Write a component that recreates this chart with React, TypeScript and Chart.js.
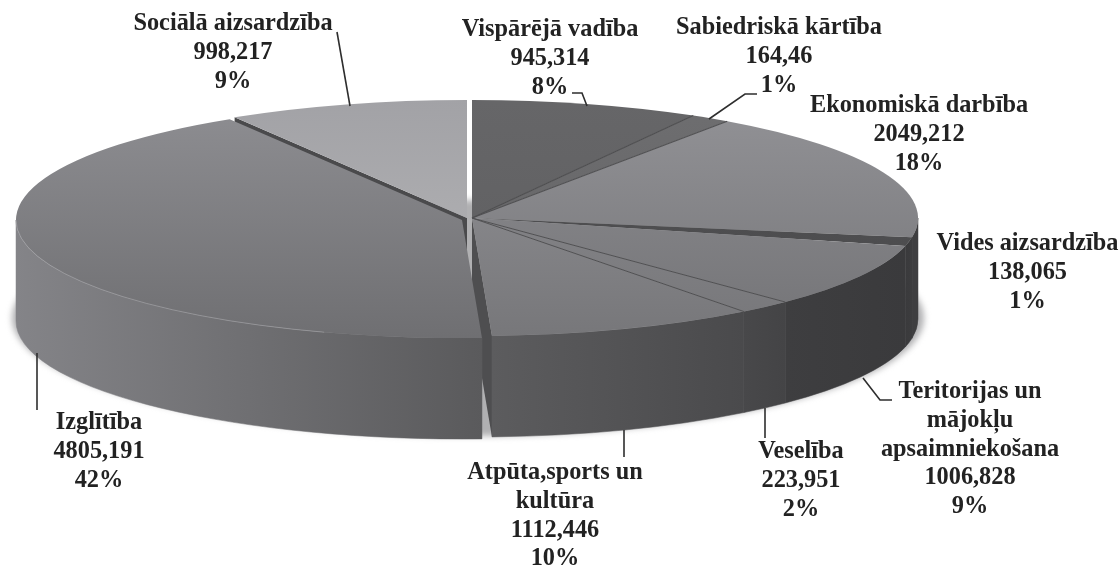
import React, { useEffect, useRef } from "react";
import { Chart, registerables } from "chart.js";

Chart.register(...registerables);

const categories = [
  "Vispārējā vadība",
  "Sabiedriskā kārtība",
  "Ekonomiskā darbība",
  "Vides aizsardzība",
  "Teritorijas un mājokļu apsaimniekošana",
  "Veselība",
  "Atpūta,sports un kultūra",
  "Izglītība",
  "Sociālā aizsardzība",
];
const values = [945.314, 164.46, 2049.212, 138.065, 1006.828, 223.951, 1112.446, 4805.191, 998.217];
const percents = [8, 1, 18, 1, 9, 2, 10, 42, 9];
const nameRows = [
  ["Vispārējā vadība"],
  ["Sabiedriskā kārtība"],
  ["Ekonomiskā darbība"],
  ["Vides aizsardzība"],
  ["Teritorijas un", "mājokļu", "apsaimniekošana"],
  ["Veselība"],
  ["Atpūta,sports un", "kultūra"],
  ["Izglītība"],
  ["Sociālā aizsardzība"],
];

// style tables
const topLight = ["#666668", "#6e6e70", "#929296", "#525254", "#8e8e92", "#8c8c90", "#939397", "#8e8e92", "#a2a2a6"];
const topDark = ["#5e5e60", "#626264", "#767679", "#4a4a4c", "#747477", "#77777a", "#77777a", "#6f6f72", "#b6b6b8"];
const wallLeft = ["#444", "#444", "#3e3e40", "#3a3a3c", "#3e3e40", "#48484a", "#5c5c5e", "#848488", "#888"];
const wallRight = ["#444", "#444", "#3e3e40", "#3c3c3e", "#3a3a3c", "#444446", "#4a4a4c", "#5a5a5c", "#888"];
const centers = [[472, 218], [472, 218], [472, 218], [472, 218], [472, 218], [472, 218], [472, 218], [462, 220], [467, 218]];
const labelPos = [[550, 30], [779, 28], [919, 106], [1027.5, 244], [970, 392], [801, 452], [555, 473], [99, 423], [233, 24]];
const leaders = [
  [[572, 93], [582, 93], [587, 106]],
  [[757, 94], [745, 94], [709, 119]],
  [],
  [],
  [[892, 400], [880, 400], [863, 378]],
  [[765, 408], [765, 438]],
  [[624, 430], [624, 457]],
  [[37, 353], [37, 410]],
  [[337, 32], [350, 106]],
];
const RX = 446;
const RY = 118;
const DEPTH = 101;
const LINE = 28.7;

const pie3d = {
  id: "pie3d",
  beforeDatasetsDraw(chart: any) {
    const ctx: CanvasRenderingContext2D = chart.ctx;
    const arcs = chart.getDatasetMeta(0).data;

    // soft shadow under the body
    ctx.save();
    ctx.filter = "blur(3px)";
    ctx.fillStyle = "#b0b0b2";
    ctx.beginPath();
    ctx.ellipse(468, 318, 456, 118, 0, 0, Math.PI * 2);
    ctx.fill();
    ctx.restore();

    const wall = (i: number) => {
      const arc = arcs[i];
      const [cx, cy] = centers[i];
      const a0 = Math.max(arc.startAngle, 0);
      const a1 = Math.min(arc.endAngle, Math.PI);
      if (a1 <= a0) return;
      const x0 = cx + RX * Math.cos(a1);
      const x1 = cx + RX * Math.cos(a0);
      const g = ctx.createLinearGradient(x0, 0, x1, 0);
      g.addColorStop(0, wallLeft[i]);
      g.addColorStop(1, wallRight[i]);
      ctx.fillStyle = g;
      ctx.beginPath();
      ctx.ellipse(cx, cy, RX, RY, 0, a0, a1);
      ctx.ellipse(cx, cy + DEPTH, RX, RY, 0, a1, a0, true);
      ctx.closePath();
      ctx.fill();
      ctx.strokeStyle = g;
      ctx.lineWidth = 0.5;
      ctx.stroke();
    };
    const cutWall = (i: number, angle: number, fill: string) => {
      const [cx, cy] = centers[i];
      const x = cx + RX * Math.cos(angle);
      const y = cy + RY * Math.sin(angle);
      ctx.fillStyle = fill;
      ctx.beginPath();
      ctx.moveTo(cx, cy);
      ctx.lineTo(x, y);
      ctx.lineTo(x, y + DEPTH);
      ctx.lineTo(cx, cy + DEPTH);
      ctx.closePath();
      ctx.fill();
    };
    const top = (i: number) => {
      const arc = arcs[i];
      const [cx, cy] = centers[i];
      ctx.save();
      ctx.translate(cx, cy);
      ctx.scale(RX / arc.outerRadius, RY / arc.outerRadius);
      ctx.translate(-arc.x, -arc.y);
      arc.draw(ctx);
      ctx.restore();
    };
    const edge = (i: number, angle: number, color: string, width: number) => {
      const [cx, cy] = centers[i];
      ctx.strokeStyle = color;
      ctx.lineWidth = width;
      ctx.beginPath();
      ctx.moveTo(cx, cy);
      ctx.lineTo(cx + RX * Math.cos(angle), cy + RY * Math.sin(angle));
      ctx.stroke();
    };

    [2, 3, 4, 5, 6].forEach(wall);
    cutWall(6, arcs[6].endAngle, "#4e4e50");
    cutWall(8, arcs[8].startAngle, "#4a4a4c");
    [8, 0, 1, 2, 3, 4, 5, 6].forEach(top);
    edge(0, arcs[0].endAngle, "#4e4e50", 1.2);
    edge(1, arcs[1].endAngle, "#505052", 1.2);
    edge(4, arcs[4].endAngle, "#505052", 1);
    edge(5, arcs[5].endAngle, "#505052", 1);
    wall(7);
    top(7);
    // pale highlight along the front rim of the largest slice
    const [cx7, cy7] = centers[7];
    ctx.strokeStyle = "rgba(175,175,180,0.5)";
    ctx.lineWidth = 1;
    ctx.beginPath();
    ctx.ellipse(cx7, cy7, RX, RY, 0, Math.PI * 0.6, Math.PI);
    ctx.stroke();

    // leaders and labels
    ctx.strokeStyle = "#2e2e2e";
    ctx.lineWidth = 1.6;
    leaders.forEach((pts) => {
      if (!pts.length) return;
      ctx.beginPath();
      pts.forEach(([x, y], k) => (k ? ctx.lineTo(x, y) : ctx.moveTo(x, y)));
      ctx.stroke();
    });
    ctx.fillStyle = "#222";
    ctx.font = 'bold 24.3px "Liberation Serif"';
    ctx.textAlign = "center";
    ctx.textBaseline = "middle";
    categories.forEach((_, i) => {
      const rows = [...nameRows[i], String(values[i]).replace(".", ","), percents[i] + "%"];
      rows.forEach((t, k) => ctx.fillText(t, labelPos[i][0], labelPos[i][1] + k * LINE));
    });
    return false;
  },
};

export default function App() {
  const ref = useRef<HTMLCanvasElement>(null);
  useEffect(() => {
    const chart = new Chart(ref.current!, {
      type: "pie",
      data: {
        labels: categories,
        datasets: [
          {
            data: values,
            borderWidth: 0,
            backgroundColor: (c: any) => {
              const h = c.chart.height;
              const g = c.chart.ctx.createLinearGradient(0, 0, 0, h);
              const i = c.dataIndex ?? 0;
              g.addColorStop(0, topLight[i]);
              g.addColorStop(1, topDark[i]);
              return g;
            },
          },
        ],
      },
      options: {
        responsive: false,
        animation: false,
        events: [],
        layout: { padding: 0 },
        plugins: { legend: { display: false }, tooltip: { enabled: false } },
      },
      plugins: [pie3d],
    } as any);
    return () => chart.destroy();
  }, []);
  return (
    <div style={{ position: "fixed", left: 0, top: 0, width: 1120, height: 569, background: "#fff" }}>
      <canvas ref={ref} width={1120} height={569} style={{ display: "block", filter: "blur(0.7px)" }} />
    </div>
  );
}
